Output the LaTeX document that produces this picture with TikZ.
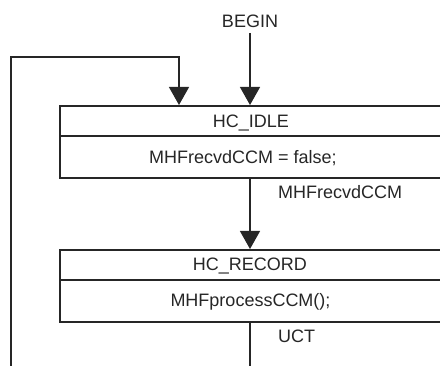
\documentclass[tikz,border=0pt]{standalone}
\usepackage{fontspec}
\setmainfont{Liberation Sans}
\usetikzlibrary{arrows.meta}
\begin{document}
\begin{tikzpicture}[x=1pt,y=-1pt,
  boxline/.style={draw=black!85, line width=2.4pt},
  statebox/.style={boxline, rectangle, anchor=north west, inner sep=0pt, minimum width=420pt},
  conn/.style={draw=black!85, line width=1.3pt},
  arr/.style={conn, -{Triangle[length=18pt,width=20pt]}},
  txt/.style={anchor=base, inner sep=0pt, font=\fontsize{18}{20}\selectfont, text=black!85},
  lbl/.style={txt, anchor=base west}]
\useasboundingbox (0,0) rectangle (440,366);

% state HC_IDLE
\node[statebox, minimum height=30pt] (idlehead) at (59,105) {};
\node[statebox, minimum height=42pt] (idlebody) at (59,135) {};
\node[txt] (idlename) at (251,127.5) {HC\_IDLE};
\node[txt] (idleact) at (243,163.5) {MHFrecvdCCM = false;};

% state HC_RECORD
\node[statebox, minimum height=30pt] (rechead) at (59,249) {};
\node[statebox, minimum height=42pt] (recbody) at (59,279) {};
\node[txt] (recname) at (250,270.5) {HC\_RECORD};
\node[txt] (recact) at (250.5,306.5) {MHFprocessCCM();};

% labels
\node[txt] (begin) at (250,27.5) {BEGIN};
\node[lbl] (lrecvd) at (278,198.5) {MHFrecvdCCM};
\node[lbl] (luct) at (278,342.5) {UCT};

% coordinates
\coordinate (beginout) at (250,33);
\coordinate (loopstart) at (11,372);
\coordinate (looptop) at (179,57);
\coordinate (recout) at (250,372);

% connectors
\draw[arr] (beginout) -- (beginout |- idlehead.north);
\draw[arr] (loopstart) |- (looptop) -- (looptop |- idlehead.north);
\draw[arr] (idlebody.south -| beginout) -- (rechead.north -| beginout);
\draw[conn] (recbody.south -| beginout) -- (recout);
\end{tikzpicture}
\end{document}
